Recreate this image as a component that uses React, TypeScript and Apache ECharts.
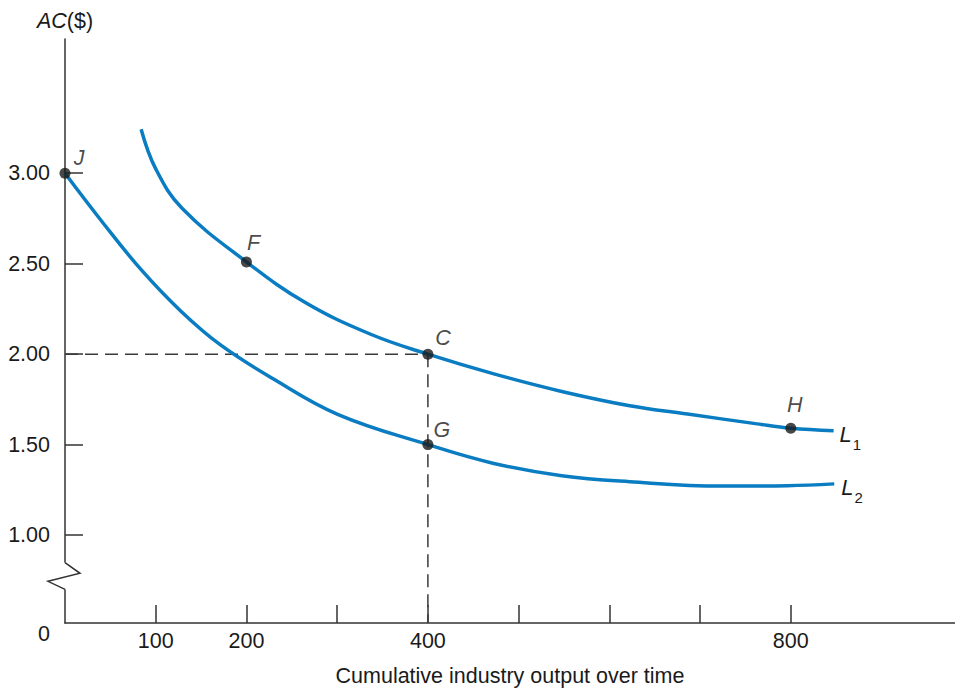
import React, { useEffect, useRef } from 'react';
import * as echarts from 'echarts';

// ---- axis / tick data ----
const X_MIN = 0;
const X_MAX = 981;
const Y_MIN = 0.514;
const Y_MAX = 3.742;
const X_TICKS = [100, 200, 300, 400, 500, 600, 700, 800];
const X_LABELS = [100, 200, 400, 800];
const Y_TICKS = [1.0, 1.5, 2.0, 2.5, 3.0];
const Y_LABELS = [Y_MIN, 1.0, 1.5, 2.0, 2.5, 3.0];

// ---- curve L1 ----
const L1_X = [83.9, 100, 129.3, 200, 265.3, 336.9, 400, 472.7, 547.5, 622.5, 686.2, 761.0, 800, 847.2];
const L1_Y = [3.243, 3.024, 2.805, 2.51, 2.284, 2.11, 2.0, 1.891, 1.794, 1.715, 1.669, 1.616, 1.59, 1.577];

// ---- curve L2 ----
const L2_X = [0, 40.9, 83.9, 127.5, 171.4, 229.4, 301.1, 400, 472.7, 547.5, 622.5, 723.6, 796.3, 847.9];
const L2_Y = [3.0, 2.732, 2.467, 2.239, 2.051, 1.864, 1.666, 1.5, 1.396, 1.328, 1.295, 1.271, 1.273, 1.283];

// ---- labelled points ----
const POINT_NAMES = ['J', 'F', 'C', 'G', 'H'];
const POINT_X = [0, 200, 400, 400, 800];
const POINT_Y = [3.0, 2.51, 2.0, 1.5, 1.59];

// ---- zigzag break on the y axis (value space) ----
const BREAK_TOP = 0.848;
const BREAK_BOTTOM = 0.70;

// ---- styles ----
const FONT = '"Liberation Sans", Arial, Helvetica, sans-serif';
const INK = '#1a1a1a';
const AXIS = '#333333';
const BLUE = '#0a7cc1';
const FS = 21.5;
const LABEL_OFFSETS: Record<string, [number, number]> = {
  J: [14, -15],
  F: [7, -19],
  C: [15, -16],
  G: [14, -15],
  H: [4, -23],
};

const zip = (xs: number[], ys: number[]) => xs.map((x, i) => [x, ys[i]]);

export default function App() {
  const ref = useRef<HTMLDivElement>(null);

  useEffect(() => {
    if (!ref.current) return;
    const chart = echarts.init(ref.current, undefined, { renderer: 'svg' });

    const cIdx = POINT_NAMES.indexOf('C');
    const cx = POINT_X[cIdx];
    const cy = POINT_Y[cIdx];

    const endRich = {
      l: { fontSize: 22, fontStyle: 'italic', fontFamily: FONT, color: INK },
      s: { fontSize: 15, fontFamily: FONT, color: INK, padding: [19, 0, 0, 1] },
    };

    chart.setOption({
      animation: false,
      backgroundColor: '#ffffff',
      grid: { left: 65, right: 0, top: 39, bottom: 64, containLabel: false },
      xAxis: {
        type: 'value',
        min: X_MIN,
        max: X_MAX,
        name: 'Cumulative industry output over time',
        nameLocation: 'middle',
        nameGap: 42,
        nameTextStyle: { fontSize: FS, color: INK, fontFamily: FONT },
        axisLine: { show: true, lineStyle: { color: AXIS, width: 1.5 } },
        axisTick: { show: true, inside: true, length: 18, customValues: X_TICKS, lineStyle: { color: AXIS, width: 1.5 } },
        axisLabel: { customValues: X_LABELS, fontSize: FS, color: INK, fontFamily: FONT, margin: 7 },
        splitLine: { show: false },
      },
      yAxis: {
        type: 'value',
        min: Y_MIN,
        max: Y_MAX,
        name: '{i|AC}($)',
        nameLocation: 'end',
        nameGap: 7,
        nameTextStyle: {
          fontSize: FS,
          color: INK,
          fontFamily: FONT,
          align: 'center',
          rich: { i: { fontSize: FS, fontStyle: 'italic', color: INK, fontFamily: FONT } },
        },
        axisLine: { show: true, lineStyle: { color: AXIS, width: 1.5 } },
        axisTick: { show: true, inside: true, length: 18, customValues: Y_TICKS, lineStyle: { color: AXIS, width: 1.5 } },
        axisLabel: {
          customValues: Y_LABELS,
          fontSize: FS,
          color: INK,
          fontFamily: FONT,
          margin: 15,
          formatter: (v: number) => (v < 0.9 ? '{z|0}' : v.toFixed(2)),
          rich: { z: { fontSize: FS, color: INK, fontFamily: FONT, padding: [22, 0, 0, 0] } },
        },
        splitLine: { show: false },
      },
      series: [
        {
          type: 'line',
          data: [[X_MIN, cy], [cx, cy]],
          symbol: 'none',
          lineStyle: { color: '#3a3a3a', width: 1.5, type: [13, 7] },
          z: 1,
          silent: true,
        },
        {
          type: 'line',
          data: [[cx, cy], [cx, Y_MIN]],
          symbol: 'none',
          lineStyle: { color: '#3a3a3a', width: 1.5, type: [13, 7] },
          z: 1,
          silent: true,
        },
        {
          name: 'L1',
          type: 'line',
          data: zip(L1_X, L1_Y),
          smooth: 0.4,
          symbol: 'none',
          lineStyle: { color: BLUE, width: 3.5 },
          endLabel: { show: true, formatter: '{l|L}{s|1}', distance: 6, offset: [0, 4], rich: endRich },
          z: 2,
        },
        {
          name: 'L2',
          type: 'line',
          data: zip(L2_X, L2_Y),
          smooth: 0.4,
          symbol: 'none',
          lineStyle: { color: BLUE, width: 3.5 },
          endLabel: { show: true, formatter: '{l|L}{s|2}', distance: 7, offset: [0, 4], rich: endRich },
          z: 2,
        },
        {
          type: 'scatter',
          data: POINT_NAMES.map((n, i) => ({
            name: n,
            value: [POINT_X[i], POINT_Y[i]],
            label: { offset: LABEL_OFFSETS[n] },
          })),
          symbol: 'circle',
          symbolSize: 11,
          itemStyle: { color: INK },
          label: {
            show: true,
            position: 'inside',
            formatter: '{b}',
            fontSize: FS,
            fontStyle: 'italic',
            color: INK,
            fontFamily: FONT,
            align: 'center',
            verticalAlign: 'middle',
          },
          z: 5,
        },
      ],
    });

    const top = chart.convertToPixel({ gridIndex: 0 }, [X_MIN, BREAK_TOP]) as number[];
    const bot = chart.convertToPixel({ gridIndex: 0 }, [X_MIN, BREAK_BOTTOM]) as number[];
    const ax = top[0];
    const h = bot[1] - top[1];
    chart.setOption({
      graphic: [
        {
          type: 'rect',
          z: 100,
          shape: { x: ax - 3, y: top[1], width: 6, height: h },
          style: { fill: '#ffffff' },
        },
        {
          type: 'polyline',
          z: 101,
          shape: {
            points: [
              [ax, top[1]],
              [ax + 15, top[1] + h * 0.4],
              [ax - 17, top[1] + h * 0.7],
              [ax, bot[1]],
            ],
          },
          style: { stroke: AXIS, lineWidth: 1.5, fill: 'none' },
        },
      ],
    });

    return () => chart.dispose();
  }, []);

  return (
    <div
      ref={ref}
      style={{ position: 'absolute', left: 0, top: 0, width: 955, height: 692 }}
    />
  );
}
